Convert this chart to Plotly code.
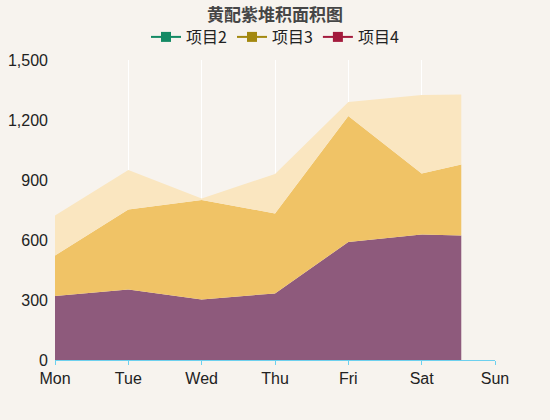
import plotly.graph_objects as go

# Category labels on the x axis
days = ["Mon", "Tue", "Wed", "Thu", "Fri", "Sat", "Sun"]

# Sampled positions along the day axis (last sample sits between Sat and Sun)
x_pos = [0, 1, 2, 3, 4, 5, 5.54]

# Stacked series values
series_a = [320, 353, 303, 333, 590, 628, 622]
series_b = [202, 400, 497, 400, 630, 304, 355]
series_c = [200, 197, 8, 197, 70, 393, 350]

legend_names = ["项目2", "项目3", "项目4"]
legend_colors = ["#138a64", "#a3880f", "#a31a3c"]
fill_colors = ["#8e5a7c", "#f0c366", "#fae6c0"]

font_family = "Liberation Sans, Noto Sans CJK SC, sans-serif"

fig = go.Figure()

for vals, color in zip([series_a, series_b, series_c], fill_colors):
    fig.add_trace(go.Scatter(
        x=x_pos, y=vals,
        mode="lines",
        line=dict(width=0, color=color),
        fillcolor=color,
        stackgroup="s",
        showlegend=False,
        hoverinfo="skip",
    ))

for name, color in zip(legend_names, legend_colors):
    fig.add_trace(go.Scatter(
        x=[None], y=[None],
        name=name,
        mode="lines+markers",
        line=dict(color=color, width=2),
        marker=dict(symbol="square", size=10, color=color),
    ))

fig.update_layout(
    width=550, height=420,
    paper_bgcolor="#f7f3ee",
    plot_bgcolor="#f7f3ee",
    margin=dict(l=55, r=55, t=60, b=60, autoexpand=False),
    font=dict(family=font_family, size=16, color="#222222"),
    title=dict(
        text="<b>黄配紫堆积面积图</b>",
        x=0.5, xanchor="center",
        y=1 - 15 / 420, yanchor="middle",
        font=dict(size=17, color="#464646", family="Noto Sans CJK SC, sans-serif"),
    ),
    legend=dict(
        orientation="h",
        traceorder="normal",
        x=0.5, xanchor="center", xref="container",
        y=1 - 37 / 420, yanchor="middle", yref="container",
        font=dict(size=16, color="#222222", family="Noto Sans CJK SC, Liberation Sans, sans-serif"),
        itemwidth=30,
        bgcolor="rgba(0,0,0,0)",
    ),
    xaxis=dict(
        range=[0, 6],
        tickmode="array",
        tickvals=list(range(len(days))),
        ticktext=days,
        showgrid=True,
        gridcolor="#ffffff",
        gridwidth=1,
        showline=True,
        linecolor="#6dd0ee",
        linewidth=1,
        ticks="outside",
        tickcolor="#6dd0ee",
        ticklen=4,
        zeroline=False,
        fixedrange=True,
    ),
    yaxis=dict(
        range=[0, 1500],
        tickmode="array",
        tickvals=[0, 300, 600, 900, 1200, 1500],
        tickformat=",d",
        showgrid=False,
        showline=False,
        zeroline=False,
        ticks="",
        ticklabelstandoff=6,
        fixedrange=True,
    ),
)

fig.write_html("out.html")
